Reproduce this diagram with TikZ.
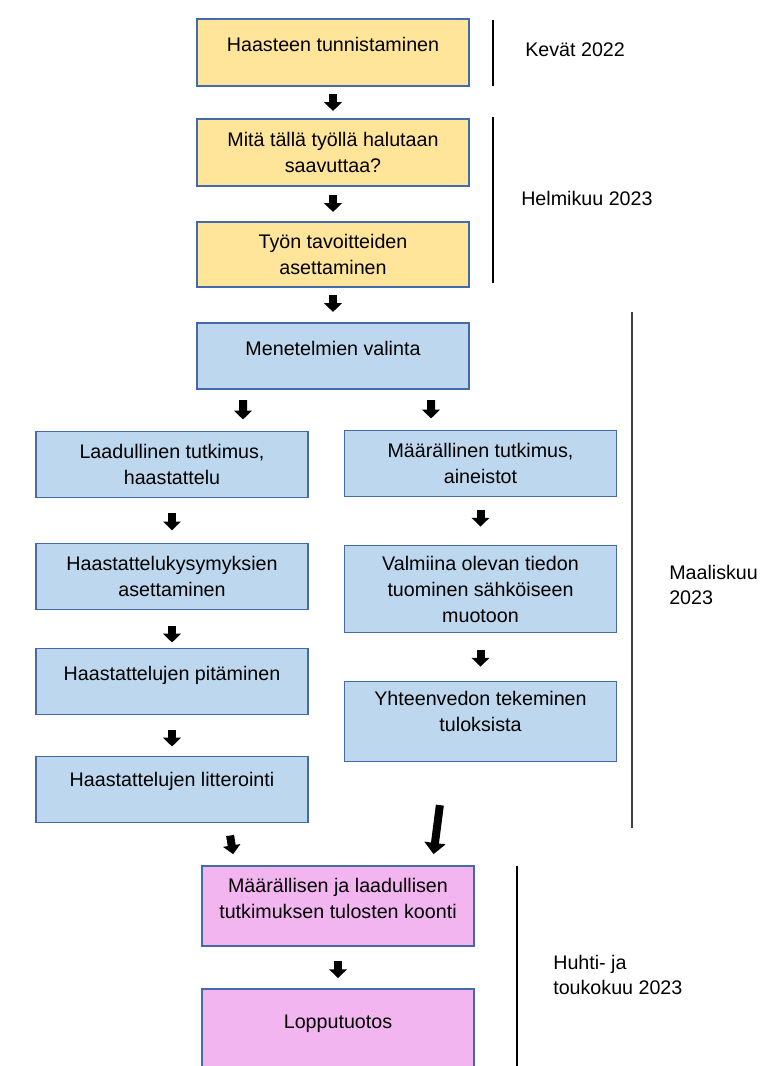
\documentclass[tikz,border=0pt]{standalone}
\usepackage{fontspec}
\setmainfont{Liberation Sans}
\usepackage{tikz}
\usetikzlibrary{arrows.meta}
\usetikzlibrary{positioning}
\definecolor{boxborder}{RGB}{68,106,170}
\definecolor{yellowfill}{RGB}{255,229,153}
\definecolor{bluefill}{RGB}{189,215,238}
\definecolor{pinkfill}{RGB}{243,181,240}
% text set a little higher than the middle of its box
\newcommand{\raised}[2]{\raisebox{#1}[\height][\depth]{\begin{tabular}{@{}c@{}}#2\end{tabular}}}

\begin{document}
\begin{tikzpicture}[font=\fontsize{14}{18.5}\selectfont]
\tikzstyle{yellow node}=[rectangle,draw=boxborder,fill=yellowfill,line width=0.9pt,outer sep=0pt,minimum width=6.8cm,minimum height=1.675cm,align=center]
\tikzstyle{blue node}=[rectangle,draw=boxborder,fill=bluefill,line width=0.9pt,outer sep=0pt,minimum width=6.8cm,minimum height=1.65cm,align=center]
\tikzstyle{pink node}=[rectangle,draw=boxborder,fill=pinkfill,line width=0.9pt,outer sep=0pt,minimum width=6.8cm,minimum height=2cm,align=center]
\tikzset{
  blk/.style = {-{Triangle[width=0.43cm,length=0.22cm]},line width=0.2cm},
  big blk/.style = {-{Triangle[width=0.52cm,length=0.28cm]},line width=0.2cm},
  sep line/.style = {draw=black,line width=0.8pt},
  time label/.style = {anchor=west,align=left,inner sep=0pt,font=\fontsize{14}{17.5}\selectfont}
}
\useasboundingbox (0,0) rectangle (19.1,-26.65);

    \node[yellow node] (b1) at (8.325,-1.3125) {\raised{0.15cm}{Haasteen tunnistaminen}};
    \node[yellow node] (b2) [below=0.825cm of b1] {Mitä tällä työllä halutaan\\saavuttaa?};
    \node[yellow node,minimum height=1.625cm] (b3) [below=0.9cm of b2] {Työn tavoitteiden\\asettaminen};
    \node[blue node] (b4) [below=0.9cm of b3] {\raised{0.15cm}{Menetelmien valinta}};
    %%%%%%%%%%%%%%%%%%%%%%%%%%%%%%%%%%%
    \node[blue node] (l1) at (4.3,-11.6125) {Laadullinen tutkimus,\\haastattelu};
    \node[blue node] (l2) [below=1.15cm of l1] {Haastattelukysymyksien\\asettaminen};
    \node[blue node] (l3) [below=0.975cm of l2] {\raised{0.16cm}{Haastattelujen pitäminen}};
    \node[blue node] (l4) [below=1.05cm of l3] {\raised{0.2cm}{Haastattelujen litterointi}};
    \node[blue node] (r1) at (12.0125,-11.5875) {Määrällinen tutkimus,\\aineistot};
    \node[blue node,minimum height=2.175cm] (r2) [below=1.225cm of r1] {Valmiina olevan tiedon\\tuominen sähköiseen\\muotoon};
    \node[blue node,minimum height=2cm] (r3) [below=1.225cm of r2] {\raised{0.2cm}{Yhteenvedon tekeminen\\tuloksista}};
    %%%%%%%%%%%%%%%%%%%%%%%%%%%%%%%%%%%
    \node[pink node] (b5) at (8.45,-22.65) {\raised{0.14cm}{Määrällisen ja laadullisen\\tutkimuksen tulosten koonti}};
    \node[pink node] (b6) [below=1.075cm of b5] {\raised{0.15cm}{Lopputuotos}};
    %%%%%%%%%%%%%%%%%%%%%%%%%%%%%%%%%%%
    \node[time label] (kevat) at (13.125,-1.25) {Kevät 2022};
    \node[time label] (helmi) at (13.025,-4.95) {Helmikuu 2023};
    \node[time label] (maalis) at (16.725,-14.625) {Maaliskuu\\2023};
    \node[time label] (huhti) at (13.825,-24.375) {Huhti- ja\\toukokuu 2023};
    %%%%%%%%%%%%%%%%%%%%%%%%%%%%%%%%%%%
    \draw[sep line] (12.325,-0.5) -- (12.325,-2.15);
    \draw[sep line] (12.325,-2.925) -- (12.325,-7.075);
    \draw[sep line,draw=black!75] (15.8,-7.8) -- (15.8,-20.7);
    \draw[sep line] (12.925,-21.65) -- (12.925,-26.8);
    %%%%%%%%%%%%%%%%%%%%%%%%%%%%%%%%%%%
    \path[blk]
        (b1) edge[shorten <=0.2cm,shorten >=0.2cm] (b2)
        (b2) edge[shorten <=0.225cm,shorten >=0.25cm] (b3)
        (b3) edge[shorten <=0.2cm,shorten >=0.275cm] (b4)
        ([xshift=-2.25cm]b4.south) edge[shorten <=0.28cm,shorten >=0.3cm] ([xshift=1.775cm]l1.north)
        ([xshift=2.45cm]b4.south) edge[shorten <=0.28cm,shorten >=0.3cm] ([xshift=-1.2375cm]r1.north)
        %%%%%%%%%%%%%%%%%
        (l1) edge[shorten <=0.375cm,shorten >=0.33cm] (l2)
        (l2) edge[shorten <=0.4cm,shorten >=0.15cm] (l3)
        (l3) edge[shorten <=0.375cm,shorten >=0.25cm] (l4)
        (r1) edge[shorten <=0.325cm,shorten >=0.47cm] (r2)
        (r2) edge[shorten <=0.425cm,shorten >=0.37cm] (r3)
        %%%%%%%%%%%%%%%%%
        ([xshift=1.4cm]l4.south) edge[shorten <=0.33cm,shorten >=0.3cm] ([xshift=-2.575cm]b5.north)
        ([xshift=-0.875cm]r3.south) edge[big blk,shorten <=1.1cm,shorten >=0.3cm] ([xshift=2.35cm]b5.north)
        (b5) edge[shorten <=0.375cm,shorten >=0.27cm] (b6)
;
\end{tikzpicture}
\end{document}
